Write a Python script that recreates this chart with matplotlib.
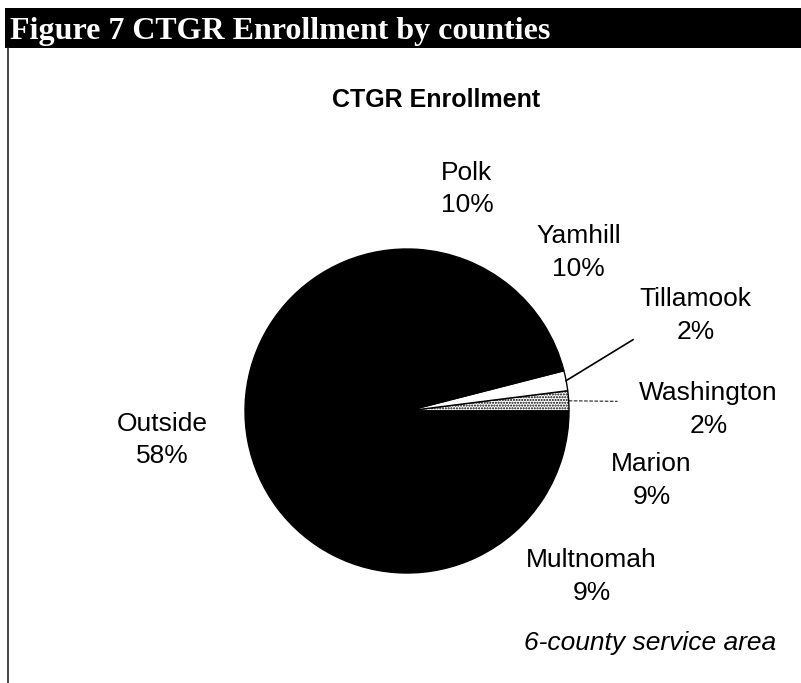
import numpy as np
import matplotlib
matplotlib.use("Agg")
import matplotlib.pyplot as plt
from matplotlib.patches import Rectangle
from matplotlib.lines import Line2D

# data, counter-clockwise from 3 o'clock
counties = ["Washington", "Tillamook", "Yamhill", "Polk", "Outside", "Multnomah", "Marion"]
shares = [2, 2, 10, 10, 58, 9, 9]
faces = ["white", "white", "black", "black", "black", "black", "black"]
hatches = ["......", None, None, None, None, None, None]

# label centres in pie units (radius = 1)
label_xy = [(1.86, 0.01), (1.78, 0.59), (1.06, 0.98), (0.37, 1.37),
            (-1.51, -0.18), (1.14, -1.02), (1.51, -0.43)]

W, H = 801, 683
fig = plt.figure(figsize=(W / 100, H / 100), dpi=100)
fig.patch.set_facecolor("white")

# header bar
bar = fig.add_axes([0, 0, 1, 1], zorder=0)
bar.set_xlim(0, W)
bar.set_ylim(H, 0)
bar.axis("off")
bar.add_patch(Rectangle((5, 8), W - 5, 40, facecolor="black", edgecolor="none"))
bar.text(10, 39, "Figure 7 CTGR Enrollment by counties", color="white",
         family="Liberation Serif", fontweight="bold", fontsize=23, va="baseline")
bar.add_line(Line2D([8, 8], [48, H], color="#222222", lw=1.2))

# pie
cx, cy, r = 407, 411, 162
ax = fig.add_axes([(cx - r) / W, (H - cy - r) / H, 2 * r / W, 2 * r / H], zorder=1)
wedges, _ = ax.pie(shares, startangle=0, counterclock=True, colors=faces,
                   wedgeprops=dict(edgecolor="black", linewidth=1.0))
for w, h in zip(wedges, hatches):
    if h:
        w.set_hatch(h)
ax.set_xlim(-1, 1)
ax.set_ylim(-1, 1)
ax.set_aspect("equal")
ax.axis("off")

for name, val, (lx, ly) in zip(counties, shares, label_xy):
    ax.text(lx, ly, f"{name}\n{val}%", ha="center", va="center",
            family="Liberation Sans", fontsize=19, linespacing=1.45, clip_on=False)

# leader lines for the two thin slices
angles = np.cumsum([0] + shares) / 100 * 360
mids = (angles[:-1] + angles[1:]) / 2
for i, end in [(0, (1.30, 0.06)), (1, (1.395, 0.44))]:
    t = np.deg2rad(mids[i])
    ax.plot([np.cos(t), end[0]], [np.sin(t), end[1]], color="black",
            lw=1.2 if i == 1 else 0.7, ls="-" if i == 1 else "--", clip_on=False)

fig.text(436 / W, 1 - 100 / H, "CTGR Enrollment", ha="center", va="center",
         family="Liberation Sans", fontweight="bold", fontsize=18)
fig.text(776 / W, 1 - 643 / H, "6-county service area", ha="right", va="center",
         family="Liberation Sans", style="italic", fontsize=19)

fig.savefig("out.png", dpi=100)
